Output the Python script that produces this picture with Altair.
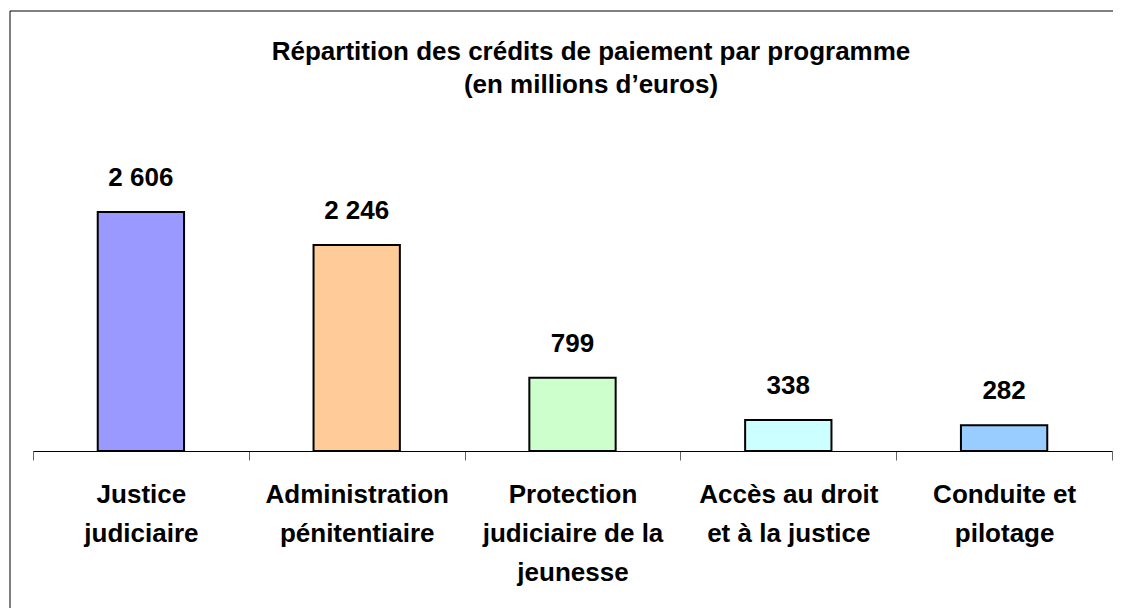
import altair as alt
import pandas as pd

categories = [
    "Justice\njudiciaire",
    "Administration\npénitentiaire",
    "Protection\njudiciaire de la\njeunesse",
    "Accès au droit\net à la justice",
    "Conduite et\npilotage",
]
values = [2606, 2246, 799, 338, 282]
colors = ["#9999FF", "#FFCC99", "#CCFFCC", "#CCFFFF", "#99CCFF"]
title_lines = ["Répartition des crédits de paiement par programme", "(en millions d’euros)"]

df = pd.DataFrame({
    "cat": categories,
    "val": values,
    "label": [f"{v:,}".replace(",", " ") for v in values],
})
one = pd.DataFrame({"t": ["\n".join(title_lines)]})

FONT = "Liberation Sans"

x_enc = alt.X(
    "cat:N",
    sort=None,
    scale=alt.Scale(paddingInner=0, paddingOuter=0),
    axis=alt.Axis(
        title=None,
        labelAngle=0,
        labelExpr="split(datum.label, '\\n')",
        labelFont=FONT,
        labelFontSize=26,
        labelFontWeight="bold",
        labelColor="black",
        labelLineHeight=39,
        labelPadding=21,
        labelLimit=400,
        domainColor="black",
        domainWidth=1,
        tickColor="#666666",
        tickWidth=1,
        tickSize=9,
        tickBand="extent",
        grid=False,
    ),
)
y_enc = alt.Y("val:Q", scale=alt.Scale(domain=[0, 3000]), axis=None)

base = alt.Chart(df)

bars = base.mark_bar(
    stroke="black", strokeWidth=2, width=alt.RelativeBandSize(0.4)
).encode(
    x=x_enc,
    y=y_enc,
    color=alt.Color("cat:N", sort=None, scale=alt.Scale(domain=categories, range=colors), legend=None),
)

labels = base.mark_text(
    font=FONT, fontSize=26, fontWeight="bold", color="black",
    baseline="alphabetic", dy=-26,
).encode(x=x_enc, y=y_enc, text="label:N")

title = alt.Chart(one).mark_text(
    font=FONT, fontSize=26, fontWeight="bold", color="black",
    baseline="alphabetic", align="center", lineBreak="\n", lineHeight=33,
).encode(x=alt.value(558), y=alt.value(-116), text="t:N")

frame_top = alt.Chart(one).mark_rule(color="black", strokeWidth=1).encode(
    x=alt.value(-23), x2=alt.value(1100), y=alt.value(-165)
)
frame_left = alt.Chart(one).mark_rule(color="black", strokeWidth=1).encode(
    x=alt.value(-23), y=alt.value(-165), y2=alt.value(460)
)

chart = alt.layer(frame_top, frame_left, bars, labels, title).properties(
    width=1079,
    height=275,
    autosize=alt.AutoSizeParams(type="none"),
    padding={"left": 25, "top": 168, "right": 1, "bottom": 157},
    background="white",
).configure_view(stroke=None, strokeWidth=0)

chart.save("out.html", embed_options={"renderer": "svg", "actions": False})
